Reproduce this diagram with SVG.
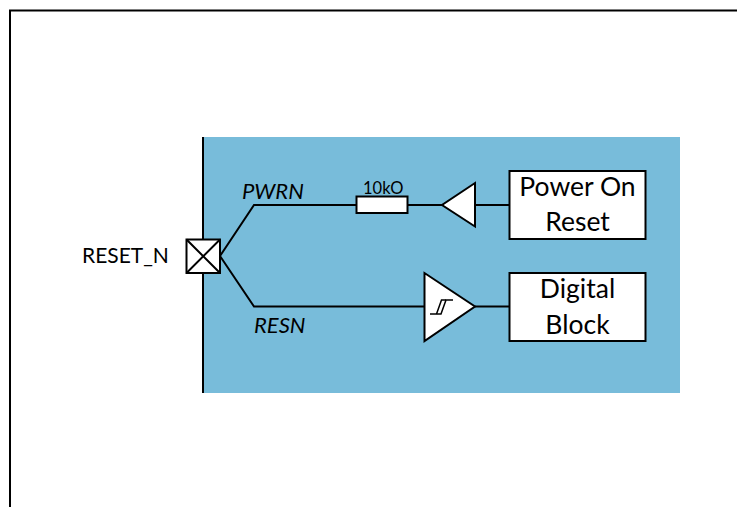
<svg xmlns="http://www.w3.org/2000/svg" width="737" height="507" viewBox="0 0 737 507">
<style>
.f{fill:#fff;stroke:#000;stroke-width:2}
.w{fill:none;stroke:#000;stroke-width:2}
.s{fill:none;stroke:#000;stroke-width:1.500}
text{font-family:Lato,"Liberation Sans",sans-serif;fill:#000}
.b{font-size:26.500px;text-anchor:middle}
.l{font-size:21px}
.i{font-size:22px;font-style:italic}
</style>
<rect id="frame-bg" width="737" height="507" fill="#fff"/>
<path id="frame" d="M10 507V10.500H737" fill="none" stroke="#000" stroke-width="2"/>
<rect id="chip" x="203" y="137" width="477" height="256" fill="#78bcda"/>
<path id="chip-edge" d="M203 137V393" fill="none" stroke="#000" stroke-width="2"/>
<g id="connectors">
<path class="w" d="M220 256L254 205H357"/>
<path class="w" d="M220 256L254 306.500H425"/>
<path class="w" d="M407 205H443"/>
<path class="w" d="M475 205H510"/>
<path class="w" d="M475 306.500H510"/>
</g>
<g id="pad">
<rect class="f" x="186.500" y="239.500" width="33.500" height="33.500"/>
<path class="w" d="M186.500 239.500L220 273M220 239.500L186.500 273"/>
</g>
<g id="resistor">
<rect class="f" x="356.500" y="196.500" width="51" height="16.500"/>
<text x="363" y="194" style="font-size:16.500px">10kO</text>
</g>
<g id="buffer"><path class="f" d="M475 183V226.500L442 205Z"/></g>
<g id="schmitt">
<path class="f" d="M424.500 273V341L475 306.500Z"/>
<path class="s" d="M430 314H441L446 300H453"/>
<path class="s" d="M436.500 314L441.500 300H446"/>
</g>
<g id="por">
<rect class="f" x="509.500" y="171" width="136" height="68"/>
<text class="b" x="577.500" y="195.500">Power On</text>
<text class="b" x="577.500" y="231">Reset</text>
</g>
<g id="digital">
<rect class="f" x="509.500" y="273" width="136" height="68"/>
<text class="b" x="577.500" y="298">Digital</text>
<text class="b" x="577.500" y="333.500">Block</text>
</g>
<text id="reset-label" class="l" x="82" y="263">RESET_N</text>
<text id="pwrn-label" class="i" x="242" y="198.500">PWRN</text>
<text id="resn-label" class="i" x="254" y="332.500">RESN</text>
</svg>
